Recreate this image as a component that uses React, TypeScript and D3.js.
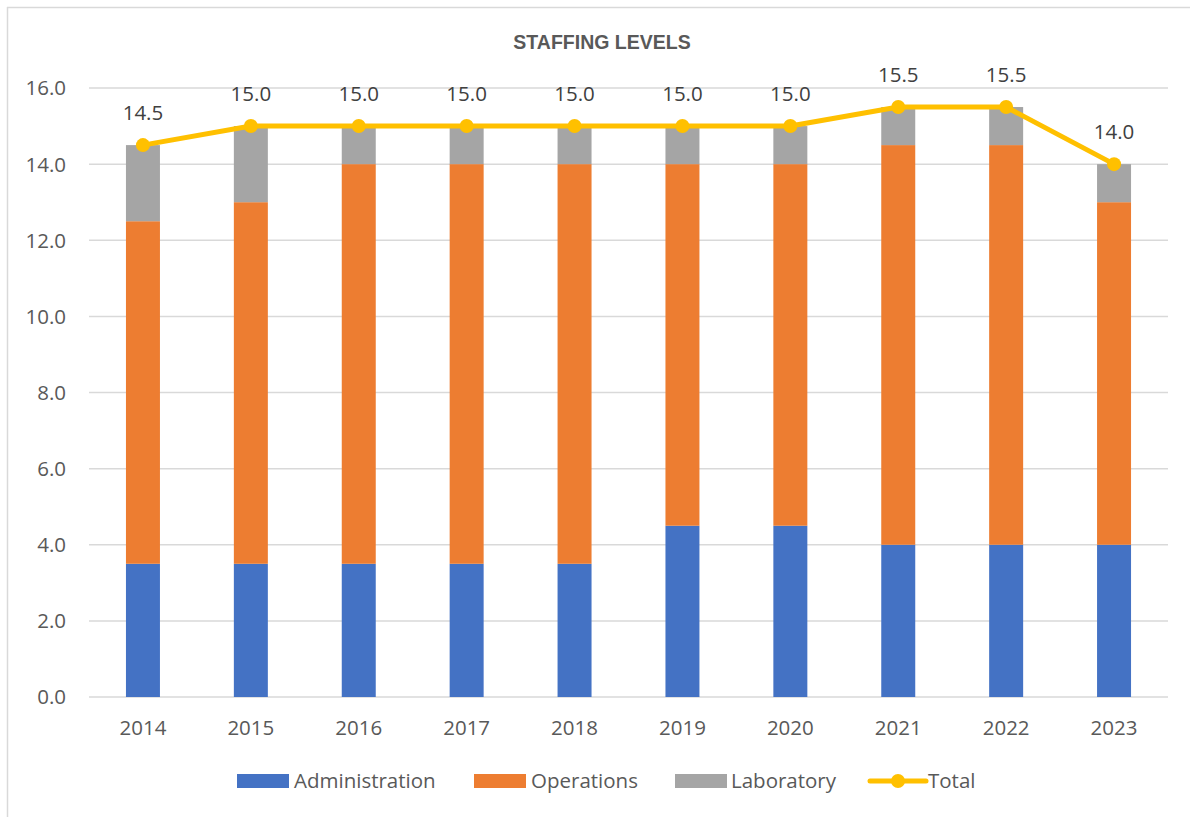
import React from "react";
import * as d3 from "d3";

const years = ["2014", "2015", "2016", "2017", "2018", "2019", "2020", "2021", "2022", "2023"];
const administration = [3.5, 3.5, 3.5, 3.5, 3.5, 4.5, 4.5, 4.0, 4.0, 4.0];
const operations = [9.0, 9.5, 10.5, 10.5, 10.5, 9.5, 9.5, 10.5, 10.5, 9.0];
const laboratory = [2.0, 2.0, 1.0, 1.0, 1.0, 1.0, 1.0, 1.0, 1.0, 1.0];
const total = [14.5, 15.0, 15.0, 15.0, 15.0, 15.0, 15.0, 15.5, 15.5, 14.0];
const yTicks = [0, 2, 4, 6, 8, 10, 12, 14, 16];
const seriesNames = ["Administration", "Operations", "Laboratory"];
const colors = ["#4472C4", "#ED7D31", "#A5A5A5"];
const totalColor = "#FFC000";
const textColor = "#595959";
const font = "'Open Sans', 'Segoe UI', sans-serif";

export default function App() {
  const W = 1190, H = 817;
  const left = 89, right = 1168, top = 88, bottom = 697;
  const x = d3.scaleBand<string>().domain(years).range([left, right]).paddingInner(0.685).paddingOuter(0.3425);
  const y = d3.scaleLinear().domain([0, 16]).range([bottom, top]);

  const rows = years.map((yr, i) => ({
    year: yr,
    Administration: administration[i],
    Operations: operations[i],
    Laboratory: laboratory[i],
  }));
  const stack = d3.stack<any>().keys(seriesNames)(rows);

  const cx = (yr: string) => (x(yr) as number) + x.bandwidth() / 2;
  const line = d3.line<number>().x((_, i) => cx(years[i])).y((d) => y(d));

  const legendItems = [
    { name: "Administration", sx: 237, tx: 294, type: "rect", color: colors[0] },
    { name: "Operations", sx: 474, tx: 531, type: "rect", color: colors[1] },
    { name: "Laboratory", sx: 675, tx: 731, type: "rect", color: colors[2] },
    { name: "Total", sx: 870, tx: 928, type: "line", color: totalColor },
  ];
  const ly = 781;
  const fs = 20.5;

  return (
    <svg width={W} height={H} style={{ position: "absolute", left: 0, top: 0, background: "#fff" }} fontFamily={font}>
      <rect x={0} y={0} width={W} height={H} fill="#fff" />
      <line x1={7} y1={7.5} x2={W} y2={7.5} stroke="#D9D9D9" strokeWidth={1.5} />
      <line x1={7.5} y1={7} x2={7.5} y2={H} stroke="#D9D9D9" strokeWidth={1.5} />
      <text x={602} y={49} textAnchor="middle" fontFamily="'Liberation Sans', Arial, sans-serif" fontWeight="bold" fontSize={19.5} fill={textColor}>
        STAFFING LEVELS
      </text>
      {yTicks.map((t) => (
        <g key={t}>
          <line x1={left} x2={right} y1={y(t)} y2={y(t)} stroke="#D9D9D9" strokeWidth={1.5} />
          <text x={66} y={y(t)} dy="0.36em" textAnchor="end" fontSize={fs} fill={textColor}>
            {t.toFixed(1)}
          </text>
        </g>
      ))}
      {stack.map((s, si) => (
        <g key={s.key} fill={colors[si]}>
          {s.map((d, i) => (
            <rect key={i} x={x(years[i])} width={x.bandwidth()} y={y(d[1])} height={y(d[0]) - y(d[1])} />
          ))}
        </g>
      ))}
      <path d={line(total) || ""} fill="none" stroke={totalColor} strokeWidth={5} strokeLinejoin="round" />
      {total.map((v, i) => (
        <g key={i}>
          <circle cx={cx(years[i])} cy={y(v)} r={7} fill={totalColor} />
          <text x={cx(years[i])} y={y(v) - 25} textAnchor="middle" fontSize={fs} fill="#404040">
            {v.toFixed(1)}
          </text>
        </g>
      ))}
      {years.map((yr) => (
        <text key={yr} x={cx(yr)} y={735} textAnchor="middle" fontSize={fs} fill={textColor}>
          {yr}
        </text>
      ))}
      {legendItems.map((it) => (
        <g key={it.name}>
          {it.type === "rect" ? (
            <rect x={it.sx} y={ly - 7} width={52} height={14} fill={it.color} />
          ) : (
            <g>
              <line x1={it.sx} x2={it.sx + 56} y1={ly} y2={ly} stroke={it.color} strokeWidth={5} strokeLinecap="round" />
              <circle cx={it.sx + 28} cy={ly} r={7} fill={it.color} />
            </g>
          )}
          <text x={it.tx} y={ly} dy="0.36em" fontSize={fs} fill={textColor}>
            {it.name}
          </text>
        </g>
      ))}
    </svg>
  );
}
